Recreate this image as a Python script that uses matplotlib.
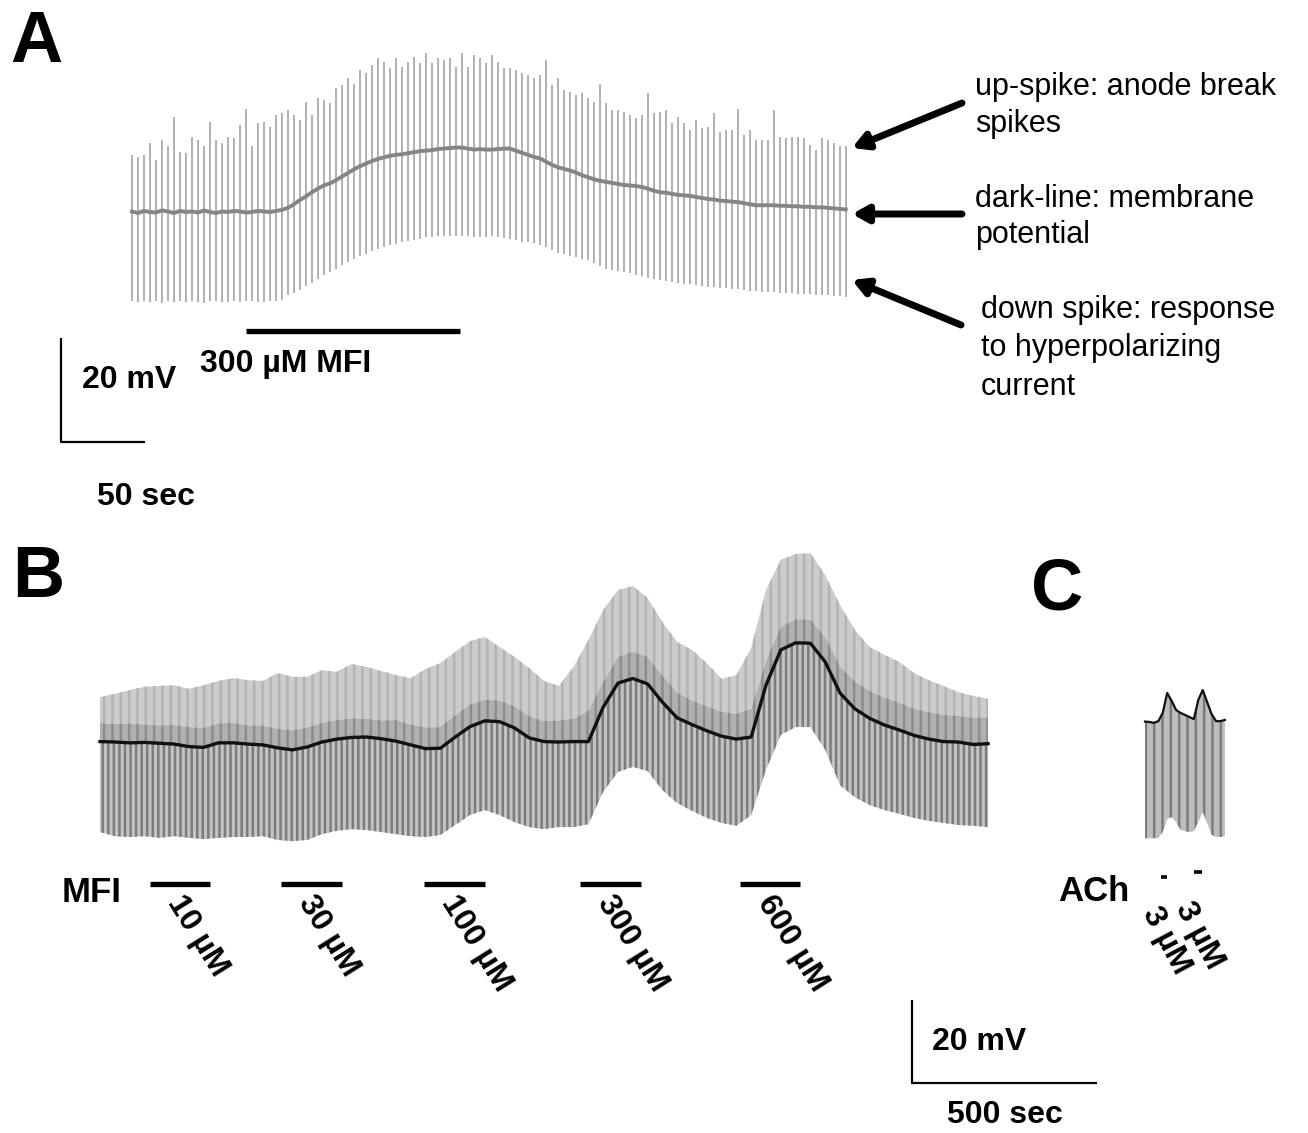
import numpy as np
import matplotlib
matplotlib.use("Agg")
from matplotlib import pyplot as plt

W, H = 1308, 1133

# ---------------- panel A: 300 uM MFI, hyperpolarizing pulse every ~3.6 s ----------------
a_pulse_interval = 3.57   # s between current pulses
# anode-break spike peak (mV, relative to resting potential)
a_top = [11.0, 10.6, 11.0, 13.2, 10.0, 13.8, 12.6, 18.3, 11.6, 11.3, 14.5, 13.8, 12.6, 17.4,
         13.8, 13.2, 14.5, 14.2, 16.7, 19.9, 12.6, 17.1, 17.4, 16.4, 18.7, 19.0, 19.6, 18.7,
         17.7, 21.2, 18.7, 21.9, 21.5, 20.9, 23.8, 24.4, 25.7, 24.7, 27.3, 26.7, 28.3, 29.6,
         28.9, 27.6, 29.6, 27.9, 28.9, 29.9, 28.6, 30.5, 28.6, 29.6, 29.2, 29.6, 27.9, 30.5,
         27.9, 30.2, 29.7, 28.6, 30.2, 28.9, 27.6, 27.6, 27.3, 26.7, 26.3, 25.7, 26.3, 29.2,
         24.4, 25.7, 23.5, 23.1, 22.5, 22.8, 21.9, 21.2, 24.7, 20.9, 19.6, 19.6, 19.3, 18.7,
         18.0, 18.7, 22.8, 19.0, 19.3, 19.6, 17.1, 18.3, 17.1, 15.8, 17.7, 16.1, 16.4, 19.0,
         15.4, 15.8, 15.8, 19.9, 14.8, 15.8, 13.8, 13.8, 13.8, 19.6, 14.5, 14.2, 14.5, 14.5,
         14.2, 12.9, 11.9, 14.2, 13.8, 13.2, 12.6, 12.6]
# hyperpolarizing response (mV)
a_bottom = [-17.2, -17.4, -17.1, -17.3, -17.2, -17.5, -17.2, -17.3, -17.1, -17.4, -17.2, -17.3,
            -17.5, -17.2, -17.1, -17.3, -17.4, -17.2, -17.3, -17.1, -17.2, -17.4, -17.3, -17.2,
            -17.1, -16.9, -16.0, -15.5, -15.0, -14.3, -13.6, -12.9, -12.2, -11.5, -10.9, -10.2,
            -9.6, -9.0, -8.5, -8.0, -7.5, -7.1, -6.7, -6.4, -6.1, -5.8, -5.5, -5.3, -5.1, -4.9,
            -4.8, -4.7, -4.6, -4.6, -4.6, -4.6, -4.7, -4.8, -4.9, -4.8, -4.7, -4.9, -5.0, -5.1,
            -5.4, -5.7, -5.8, -6.0, -6.3, -6.8, -7.3, -7.8, -8.1, -8.4, -8.7, -9.0, -9.3, -9.8,
            -10.4, -10.9, -11.2, -11.4, -11.6, -11.8, -12.1, -12.4, -12.6, -12.8, -13.0, -13.2,
            -13.4, -13.6, -13.8, -13.9, -14.1, -14.3, -14.4, -14.5, -14.6, -14.7, -14.8, -14.9,
            -15.0, -15.1, -15.2, -15.3, -15.3, -15.4, -15.5, -15.6, -15.6, -15.7, -15.8, -15.8,
            -15.9, -15.9, -16.0, -16.1, -16.2, -16.3]
# membrane potential between pulses (mV)
a_rest = [0.1, -0.2, 0.2, 0.0, -0.1, 0.3, 0.1, -0.2, 0.2, 0.0, 0.1, -0.1, 0.3, 0.0, -0.2, 0.1,
          0.0, 0.2, 0.1, -0.1, 0.0, 0.2, 0.1, 0.0, 0.2, 0.4, 0.8, 1.5, 2.3, 3.0, 3.8, 4.5, 5.1,
          5.5, 6.1, 6.8, 7.5, 8.2, 8.8, 9.3, 9.8, 10.2, 10.5, 10.8, 11.0, 11.1, 11.3, 11.5,
          11.7, 11.8, 11.9, 12.1, 12.2, 12.3, 12.4, 12.4, 12.2, 12.0, 12.1, 12.0, 12.0, 12.1,
          12.2, 12.2, 11.8, 11.4, 11.0, 10.6, 10.3, 9.7, 9.1, 8.6, 8.3, 8.0, 7.6, 7.1, 6.7,
          6.3, 6.0, 5.8, 5.6, 5.4, 5.2, 5.1, 5.0, 4.8, 4.5, 4.1, 3.8, 3.7, 3.5, 3.3, 3.2, 3.1,
          2.9, 2.7, 2.5, 2.4, 2.2, 2.1, 2.0, 1.9, 1.7, 1.5, 1.3, 1.3, 1.3, 1.3, 1.2, 1.2, 1.1,
          1.1, 1.0, 1.0, 0.9, 0.9, 0.8, 0.7, 0.6, 0.5]
a_mfi_on, a_mfi_off = 68, 195   # s

# ---------------- panel B: MFI dose series ----------------
b_time = np.arange(0, 2401, 40)  # s
b_rest = [0.1, 0.0, -0.2, -0.1, -0.3, -0.5, -1.1, -1.3, -0.2, -0.2, -0.5, -0.7, -1.4, -1.9,
          -1.2, 0.0, 0.7, 1.1, 1.2, 0.8, 0.2, -0.7, -1.6, -1.5, 1.2, 3.7, 5.1, 4.9, 3.4, 1.0,
          0.1, 0.0, 0.1, 0.1, 8.4, 14.2, 15.3, 14.0, 9.6, 5.8, 4.2, 2.7, 1.4, 0.7, 1.2, 13.7,
          22.2, 23.9, 23.8, 19.3, 11.8, 8.0, 5.7, 4.1, 2.9, 1.6, 0.7, 0.1, 0.0, -0.6, -0.4]
# upper edge of the dense (darker) part of the spike cloud
b_dense = [4.6, 4.3, 4.5, 4.2, 4.0, 4.1, 3.6, 3.4, 4.5, 4.6, 4.0, 3.9, 3.2, 2.8, 3.5, 4.6, 5.3,
           5.7, 5.6, 5.2, 5.3, 4.2, 3.5, 3.6, 6.5, 9.0, 10.2, 10.0, 8.6, 6.2, 5.0, 5.2, 5.6,
           7.5, 14.5, 20.5, 21.8, 20.5, 16.0, 11.9, 10.0, 8.6, 7.3, 6.8, 8.0, 19.5, 27.8, 29.6,
           29.5, 25.3, 18.2, 14.6, 12.3, 10.7, 9.5, 8.0, 7.2, 6.5, 6.3, 5.8, 5.9]
b_top = [10.8, 11.6, 12.5, 13.3, 13.5, 13.7, 12.8, 13.7, 14.7, 15.4, 14.9, 14.7, 16.6, 15.7,
         15.7, 17.3, 16.9, 18.8, 18.1, 17.1, 16.1, 15.4, 17.6, 19.0, 21.7, 24.3, 25.3, 22.9,
         20.5, 17.8, 14.7, 13.5, 18.1, 24.6, 31.8, 36.6, 37.6, 34.7, 28.9, 24.1, 22.2, 19.0,
         15.2, 16.1, 22.7, 36.6, 43.9, 45.3, 45.5, 40.2, 33.0, 27.0, 22.9, 21.0, 19.3, 16.6,
         14.9, 13.5, 12.0, 11.1, 10.4]
b_bottom = [-21.7, -22.7, -22.9, -22.7, -23.1, -22.7, -23.1, -23.4, -23.1, -22.9, -22.9, -22.7,
            -23.6, -23.9, -23.6, -22.2, -21.4, -21.0, -21.2, -21.7, -22.2, -22.7, -22.9, -22.4,
            -20.0, -17.6, -16.4, -17.6, -19.3, -20.5, -21.0, -20.5, -20.5, -19.8, -12.0, -7.2,
            -6.0, -7.0, -11.6, -14.7, -16.6, -18.3, -19.5, -20.2, -17.6, -6.7, 1.7, 3.6, 3.6,
            -1.9, -10.4, -13.3, -15.2, -16.4, -17.3, -18.3, -19.0, -19.5, -20.0, -20.2, -20.5]
b_mfi_on = [135, 489, 876, 1297, 1730]
b_mfi_off = [297, 654, 1041, 1462, 1892]
b_mfi_labels = ["10 µM", "30 µM", "100 µM", "300 µM", "600 µM"]

# ---------------- panel C: ACh ----------------
c_time = np.arange(0, 217, 12)  # s
c_rest = [0.1, 0.0, -0.2, 0.2, 2.2, 7.0, 5.1, 2.9, 2.2, 1.7, 1.2, 0.7, 5.3, 7.7, 4.8, 1.9,
          0.2, 0.2, 0.5]
c_bottom = [-28.0, -28.0, -28.0, -28.0, -26.5, -23.4, -22.9, -24.1, -26.0, -26.3, -26.5,
            -26.3, -24.1, -21.7, -24.3, -27.2, -27.7, -27.7, -27.5]
c_ach_on = [42, 132]
c_ach_off = [60, 153]
c_ach_labels = ["3 µM", "3 µM"]


plt.rcParams['font.family'] = ['Liberation Sans', 'DejaVu Sans']
plt.rcParams['hatch.linewidth'] = 1.8
fig = plt.figure(figsize=(W / 100, H / 100), dpi=100)


def panel(x0, y0, sx, sy):
    # full-figure axes: data (0,0) at pixel (x0,y0); sx px per s, sy px per mV
    ax = fig.add_axes([0, 0, 1, 1])
    ax.set_xlim(-x0 / sx, (W - x0) / sx)
    ax.set_ylim((y0 - H) / sy, y0 / sy)
    ax.axis('off')
    return ax


def scalebar(ax, t0, v0, dt, dv):
    ax.plot([t0, t0, t0 + dt], [v0 + dv, v0, v0], color='black', lw=1.6,
            solid_capstyle='butt', clip_on=False)


BOLD = dict(fontsize=23, fontweight='bold')

# ---- A ----
axA = panel(132, 212, 1.68, 5.2)
a_t = np.arange(len(a_top)) * a_pulse_interval
axA.vlines(a_t, a_bottom, a_top, color='#9c9c9c', lw=1.1)
axA.plot(a_t, a_rest, color='#858585', lw=2.8)
axA.plot([a_mfi_on, a_mfi_off], [-22.8, -22.8], color='black', lw=3.8, solid_capstyle='butt')
scalebar(axA, -42, -44.2, 50, 20)

# ---- B ----
axB = panel(100, 742, 0.37, 4.15)
axB.fill_between(b_time, b_dense, b_top, facecolor='#cccccc', edgecolor='#b3b3b3',
                 hatch='||', lw=0)
axB.fill_between(b_time, b_rest, b_dense, facecolor='#b0b0b0', edgecolor='#8c8c8c',
                 hatch='||', lw=0)
axB.fill_between(b_time, b_bottom, b_rest, facecolor='#c3c3c3', edgecolor='#7c7c7c',
                 hatch='|||', lw=0)
axB.plot(b_time, b_rest, color='#111111', lw=2.4)
for on, off, lab in zip(b_mfi_on, b_mfi_off, b_mfi_labels):
    axB.plot([on, off], [-34.2, -34.2], color='black', lw=3.8, solid_capstyle='butt')
    axB.annotate(lab, xy=(on, -34.2), xytext=(26.5, -4.3), textcoords='offset points',
                 rotation=-58, rotation_mode='anchor', ha='left', va='top', **BOLD)
scalebar(axB, 2194.6, -82.2, 500, 20)

# ---- C ----
axC = panel(1145, 722, 0.37, 4.15)
axC.fill_between(c_time, c_bottom, c_rest, facecolor='#bdbdbd', edgecolor='#7c7c7c',
                 hatch='||', lw=0)
axC.plot(c_time, c_rest, color='#111111', lw=1.6)
for on, off, v, lab in zip(c_ach_on, c_ach_off, [-37.3, -36.2], c_ach_labels):
    axC.plot([on, off], [v, v], color='black', lw=2.6, solid_capstyle='butt')
    axC.annotate(lab, xy=(on, v), xytext=(1.5, -18), textcoords='offset points',
                 rotation=-62, rotation_mode='anchor', ha='left', va='top', **BOLD)

# ---- overlay in pixel units: labels and arrows ----
ov = fig.add_axes([0, 0, 1, 1])
ov.set_xlim(0, W)
ov.set_ylim(H, 0)
ov.axis('off')

for s, x, y in [("A", 10, 62), ("B", 12, 597), ("C", 1031, 610)]:
    ov.text(x, y, s, fontsize=52, fontweight='bold', va='baseline')

ov.text(82, 388, "20 mV", va='baseline', **BOLD)
ov.text(200, 372, "300 µM MFI", va='baseline', **BOLD)
ov.text(97, 505, "50 sec", va='baseline', **BOLD)
ov.text(62, 902, "MFI", va='baseline', fontsize=25, fontweight='bold')
ov.text(1058, 901, "ACh", va='baseline', fontsize=25, fontweight='bold')
ov.text(932, 1050, "20 mV", va='baseline', **BOLD)
ov.text(947, 1123, "500 sec", va='baseline', **BOLD)

notes = [("up-spike: anode break", 975, 95), ("spikes", 975, 132),
         ("dark-line: membrane", 975, 207), ("potential", 975, 243),
         ("down spike: response", 981, 318), ("to hyperpolarizing", 981, 356),
         ("current", 981, 395)]
for s, x, y in notes:
    ov.text(x, y, s, fontsize=22, va='baseline')

arrow = dict(arrowstyle='-|>,head_length=0.9,head_width=0.5', lw=5, color='black',
             shrinkA=0, shrinkB=0)
for tail, tip in [((962, 103), (852, 148)), ((962, 214), (852, 214)), ((961, 325), (852, 280))]:
    ov.annotate('', xy=tip, xytext=tail, arrowprops=arrow, annotation_clip=False)

fig.savefig("out.png", dpi=100, facecolor='white')
